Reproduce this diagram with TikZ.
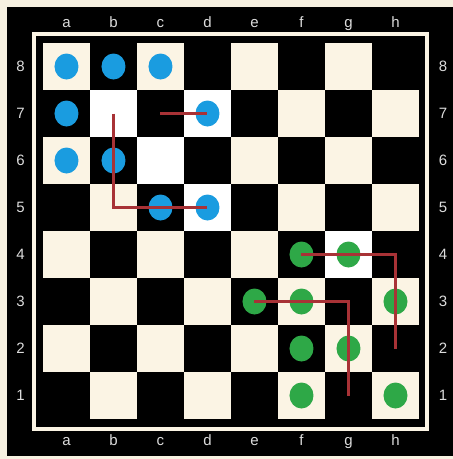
\documentclass[tikz,border=0pt]{standalone}
\usepackage{fontspec}
\setmainfont{Liberation Sans}
\usetikzlibrary{shapes.geometric}
\definecolor{bgcream}{HTML}{F7F1E1}
\definecolor{boardcream}{HTML}{FBF4E4}
\definecolor{pieceblue}{HTML}{1A9CE0}
\definecolor{piecegreen}{HTML}{2EA847}
\definecolor{pathred}{HTML}{A83236}
\definecolor{labelgray}{HTML}{DCDCDC}
\tikzset{
  bluepiece/.style={ellipse, fill=pieceblue, inner sep=0pt, minimum width=24pt, minimum height=26pt},
  greenpiece/.style={ellipse, fill=piecegreen, inner sep=0pt, minimum width=24pt, minimum height=26pt},
  movepath/.style={pathred, line width=2.2pt},
  boardlabel/.style={text=labelgray, font=\fontsize{15}{17}\selectfont, inner sep=0pt}
}
\begin{document}
\begin{tikzpicture}[x=47pt, y=47pt]
  \useasboundingbox (-43pt,-40pt) rectangle (410pt,419pt);
  % Background and frame
  \fill[bgcream] (-43pt,-40pt) rectangle (410pt,419pt);
  \fill[black] (-36pt,-37pt) rectangle (410pt,412pt);
  \draw[boardcream, line width=4pt] (-9pt,-9.5pt) rectangle (384pt,385pt);
  % Squares and square centres
  \foreach \f [count=\i] in {a,...,h} {
    \foreach \r in {1,...,8} {
      \pgfmathtruncatemacro\s{mod(\i+\r,2)}
      \ifnum\s=1 \fill[boardcream] (\i-1,\r-1) rectangle (\i,\r); \fi
      \coordinate (\f\r) at (\i-0.5,\r-0.5);
    }
  }
  % Highlighted squares
  \foreach \sq in {b7,c6,d7,d5,g4} { \fill[white] (\sq) ++(-0.5,-0.5) rectangle ++(1,1); }
  % Pieces
  \foreach \sq in {a8,b8,c8,a7,d7,a6,b6,c5,d5} { \node[bluepiece] (p-\sq) at (\sq) {}; }
  \foreach \sq in {f4,g4,e3,f3,h3,f2,g2,f1,h1} { \node[greenpiece] (p-\sq) at (\sq) {}; }
  % Moves
  \draw[movepath] (b7) -- (b5) -- (d5);
  \draw[movepath] (c7) -- (d7);
  \draw[movepath] (f4) -- (h4) -- (h2);
  \draw[movepath] (e3) -- (g3) -- (g1);
  % File labels
  \foreach \f [count=\i] in {a,...,h} {
    \node[boardlabel, anchor=base] (top-\f) at (\i-0.5, 8.34) {\f};
    \node[boardlabel, anchor=base] (bot-\f) at (\i-0.5,-0.574) {\f};
  }
  % Rank labels
  \foreach \r in {1,...,8} {
    \node[boardlabel] (left-\r) at (-0.479, \r-0.5) {\r};
    \node[boardlabel] (right-\r) at (8.51, \r-0.5) {\r};
  }
\end{tikzpicture}
\end{document}
